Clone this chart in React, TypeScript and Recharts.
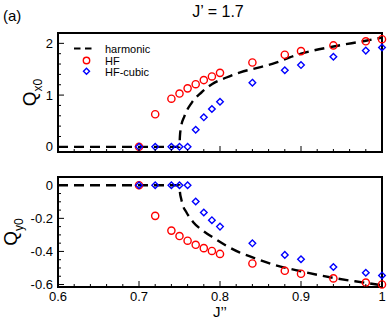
import React from "react"
import { ComposedChart, Line, Scatter, XAxis, YAxis } from "recharts"

// J'' values shared by both HF series
const jValues = [0.7, 0.72, 0.74, 0.75, 0.76, 0.77, 0.78, 0.79, 0.8, 0.84, 0.88, 0.9, 0.94, 0.98, 1.0]

// upper panel: Q_x0
const hfQx = [0, 0.63, 0.93, 1.03, 1.13, 1.21, 1.29, 1.36, 1.43, 1.63, 1.78, 1.85, 1.96, 2.04, 2.08]
const cubicQx = [0, 0, 0, 0, 0, 0.33, 0.57, 0.73, 0.87, 1.24, 1.48, 1.58, 1.74, 1.86, 1.92]
const harmonicXJ = [0.6, 0.75, 0.7505, 0.752, 0.756, 0.765, 0.777, 0.79, 0.808, 0.825, 0.85, 0.87, 0.886, 0.9, 0.94, 0.98, 1.0]
const harmonicQx = [0, 0, 0.2, 0.39, 0.59, 0.85, 1.05, 1.21, 1.34, 1.44, 1.54, 1.63, 1.73, 1.8, 1.94, 2.05, 2.11]

// lower panel: Q_y0
const hfQy = [0, -0.185, -0.274, -0.307, -0.335, -0.36, -0.38, -0.397, -0.415, -0.473, -0.517, -0.535, -0.563, -0.588, -0.6]
const cubicQy = [0, 0, 0, 0, 0, -0.098, -0.165, -0.211, -0.25, -0.351, -0.421, -0.447, -0.494, -0.529, -0.545]
const harmonicYJ = [0.6, 0.75, 0.7505, 0.752, 0.7542, 0.7585, 0.767, 0.779, 0.791, 0.808, 0.824, 0.841, 0.865, 0.9, 0.94, 0.98, 1.0]
const harmonicQy = [0, 0, -0.04, -0.08, -0.122, -0.163, -0.223, -0.275, -0.315, -0.366, -0.406, -0.437, -0.478, -0.52, -0.56, -0.59, -0.605]

// ticks
const xTicks = [0.6, 0.62, 0.64, 0.66, 0.68, 0.7, 0.72, 0.74, 0.76, 0.78, 0.8, 0.82, 0.84, 0.86, 0.88, 0.9, 0.92, 0.94, 0.96, 0.98, 1.0]
const xMajor = [0.6, 0.7, 0.8, 0.9, 1.0]
const xLabels = ["0.6", "0.7", "0.8", "0.9", "1"]
const qxTicks = [0, 0.2, 0.4, 0.6, 0.8, 1, 1.2, 1.4, 1.6, 1.8, 2, 2.2]
const qxMajor = [0, 1, 2]
const qxLabels = ["0", "1", "2"]
const qyTicks = [-0.6, -0.55, -0.5, -0.45, -0.4, -0.35, -0.3, -0.25, -0.2, -0.15, -0.1, -0.05, 0, 0.05]
const qyMajor = [-0.6, -0.4, -0.2, 0]
const qyLabels = ["-0.6", "-0.4", "-0.2", "0"]

const FONT = "'Liberation Sans', Arial, Helvetica, sans-serif"
const RED = "#ff0000"
const BLUE = "#0000ff"

const toPoints = (xs: number[], ys: number[]) => xs.map((x, i) => ({ x, y: ys[i] }))

const hfTop = toPoints(jValues, hfQx)
const cubicTop = toPoints(jValues, cubicQx)
const harmTop = toPoints(harmonicXJ, harmonicQx)
const hfBottom = toPoints(jValues, hfQy)
const cubicBottom = toPoints(jValues, cubicQy)
const harmBottom = toPoints(harmonicYJ, harmonicQy)

type Side = "bottom" | "top" | "left" | "right"

// draws inward ticks (long for majors, short for minors) and the major labels
function makeTick(side: Side, majors: number[], labels: string[] | null) {
    // eslint-disable-next-line @typescript-eslint/no-explicit-any
    return (props: any) => {
        const { x, y, payload } = props
        const idx = majors.findIndex((m) => Math.abs(m - payload.value) < 1e-6)
        const len = idx >= 0 ? 6 : 3
        let x2 = x
        let y2 = y
        if (side === "bottom") y2 = y - len
        if (side === "top") y2 = y + len
        if (side === "left") x2 = x + len
        if (side === "right") x2 = x - len
        const label = labels && idx >= 0 ? labels[idx] : null
        return (
            <g>
                <line x1={x} y1={y} x2={x2} y2={y2} stroke="#000" strokeWidth={1} />
                {label && side === "bottom" && (
                    <text x={x} y={y + 13.5} textAnchor="middle" fontSize={13} fontFamily={FONT} fill="#000">
                        {label}
                    </text>
                )}
                {label && side === "left" && (
                    <text x={x - 5} y={y + 4.5} textAnchor="end" fontSize={13} fontFamily={FONT} fill="#000">
                        {label}
                    </text>
                )}
            </g>
        )
    }
}

// eslint-disable-next-line @typescript-eslint/no-explicit-any
const circleShape = (props: any) => (
    <circle cx={props.cx} cy={props.cy} r={3.6} fill="none" stroke={RED} strokeWidth={1.4} />
)

// eslint-disable-next-line @typescript-eslint/no-explicit-any
const diamondShape = (props: any) => {
    const { cx, cy } = props
    const d = 3.3
    return (
        <path
            d={`M${cx},${cy - d}L${cx + d},${cy}L${cx},${cy + d}L${cx - d},${cy}Z`}
            fill="none"
            stroke={BLUE}
            strokeWidth={1.4}
        />
    )
}

function QLabel(sub: string, bx: number, cy: number) {
    return () => (
        <text
            x={bx}
            y={cy}
            transform={`rotate(-90 ${bx} ${cy})`}
            textAnchor="middle"
            fontFamily={FONT}
            fill="#000"
        >
            <tspan fontSize={19}>Q</tspan>
            <tspan fontSize={12} dy={6}>{sub}</tspan>
        </text>
    )
}

function LegendBox() {
    return (
        <svg width={90} height={36} style={{ position: "absolute", left: 58, top: 42.5, overflow: "visible" }}>
            <line x1={16} y1={5.5} x2={34} y2={5.5} stroke="#000" strokeWidth={2.2} strokeDasharray="6.5 4.5" />
            <text x={47} y={9.5} fontSize={11} fontFamily={FONT} fill="#000">harmonic</text>
            <circle cx={28.5} cy={17.5} r={3.2} fill="none" stroke={RED} strokeWidth={1.4} />
            <text x={47} y={21.5} fontSize={11} fontFamily={FONT} fill="#000">HF</text>
            <path d="M28.5,25.3L31.5,28.3L28.5,31.3L25.5,28.3Z" fill="none" stroke={BLUE} strokeWidth={1.4} />
            <text x={47} y={32.5} fontSize={11} fontFamily={FONT} fill="#000">HF-cubic</text>
        </svg>
    )
}

const axisLine = { stroke: "#000", strokeWidth: 2, strokeLinecap: "square" as const }

// shared props for the four framing axes (zero-size ones draw nothing, so use 1px)
const xAxisBase = {
    dataKey: "x",
    type: "number" as const,
    domain: [0.6, 1.0],
    ticks: xTicks,
    interval: 0,
    height: 1,
    tickSize: 0,
    tickMargin: 0,
    tickLine: false,
    axisLine,
}

export default function App() {
    return (
        <div style={{ position: "fixed", left: 0, top: 0, width: 387, height: 319, background: "#fff" }}>
            <svg width={387} height={30} style={{ position: "absolute", left: 0, top: 0 }}>
                <text x={3} y={21} fontSize={15} fontFamily={FONT} fill="#000">(a)</text>
                <text x={218} y={17} fontSize={16} fontFamily={FONT} fill="#000" textAnchor="middle">
                    J’ = 1.7
                </text>
            </svg>

            <div style={{ position: "absolute", left: 0, top: 0 }}>
                <ComposedChart width={387} height={160} margin={{ top: 32, right: 4, bottom: 7, left: 57 }}>
                    <XAxis {...xAxisBase} tick={makeTick("bottom", xMajor, null)} />
                    <XAxis {...xAxisBase} xAxisId="top" orientation="top" tick={makeTick("top", xMajor, null)} />
                    <YAxis
                        dataKey="y"
                        type="number"
                        domain={[-0.1, 2.2]}
                        ticks={qxTicks}
                        interval={0}
                        width={1}
                        tickSize={0}
                        tickMargin={0}
                        tickLine={false}
                        axisLine={axisLine}
                        tick={makeTick("left", qxMajor, qxLabels)}
                        label={{ content: QLabel("x0", 35.5, 92.5) }}
                    />
                    <YAxis
                        yAxisId="right"
                        orientation="right"
                        type="number"
                        domain={[-0.1, 2.2]}
                        ticks={qxTicks}
                        interval={0}
                        width={1}
                        tickSize={0}
                        tickMargin={0}
                        tickLine={false}
                        axisLine={axisLine}
                        tick={makeTick("right", qxMajor, null)}
                    />
                    <Line
                        data={harmTop}
                        dataKey="y"
                        type="monotone"
                        stroke="#000"
                        strokeWidth={2.4}
                        strokeDasharray="10 6"
                        dot={false}
                        activeDot={false}
                        isAnimationActive={false}
                    />
                    <Scatter data={hfTop} shape={circleShape} isAnimationActive={false} />
                    <Scatter data={cubicTop} shape={diamondShape} isAnimationActive={false} />
                </ComposedChart>
                <LegendBox />
            </div>

            <div style={{ position: "absolute", left: 0, top: 160 }}>
                <ComposedChart width={387} height={159} margin={{ top: 16, right: 4, bottom: 31, left: 57 }}>
                    <XAxis
                        {...xAxisBase}
                        tick={makeTick("bottom", xMajor, xLabels)}
                        label={{
                            content: () => (
                                <text x={220} y={157} textAnchor="middle" fontSize={15} fontFamily={FONT} fill="#000">
                                    J’’
                                </text>
                            ),
                        }}
                    />
                    <XAxis {...xAxisBase} xAxisId="top" orientation="top" tick={makeTick("top", xMajor, null)} />
                    <YAxis
                        dataKey="y"
                        type="number"
                        domain={[-0.615, 0.05]}
                        ticks={qyTicks}
                        interval={0}
                        width={1}
                        tickSize={0}
                        tickMargin={0}
                        tickLine={false}
                        axisLine={axisLine}
                        tick={makeTick("left", qyMajor, qyLabels)}
                        label={{ content: QLabel("y0", 17, 72) }}
                    />
                    <YAxis
                        yAxisId="right"
                        orientation="right"
                        type="number"
                        domain={[-0.615, 0.05]}
                        ticks={qyTicks}
                        interval={0}
                        width={1}
                        tickSize={0}
                        tickMargin={0}
                        tickLine={false}
                        axisLine={axisLine}
                        tick={makeTick("right", qyMajor, null)}
                    />
                    <Line
                        data={harmBottom}
                        dataKey="y"
                        type="monotone"
                        stroke="#000"
                        strokeWidth={2.4}
                        strokeDasharray="10 6"
                        dot={false}
                        activeDot={false}
                        isAnimationActive={false}
                    />
                    <Scatter data={hfBottom} shape={circleShape} isAnimationActive={false} />
                    <Scatter data={cubicBottom} shape={diamondShape} isAnimationActive={false} />
                </ComposedChart>
            </div>
        </div>
    )
}
